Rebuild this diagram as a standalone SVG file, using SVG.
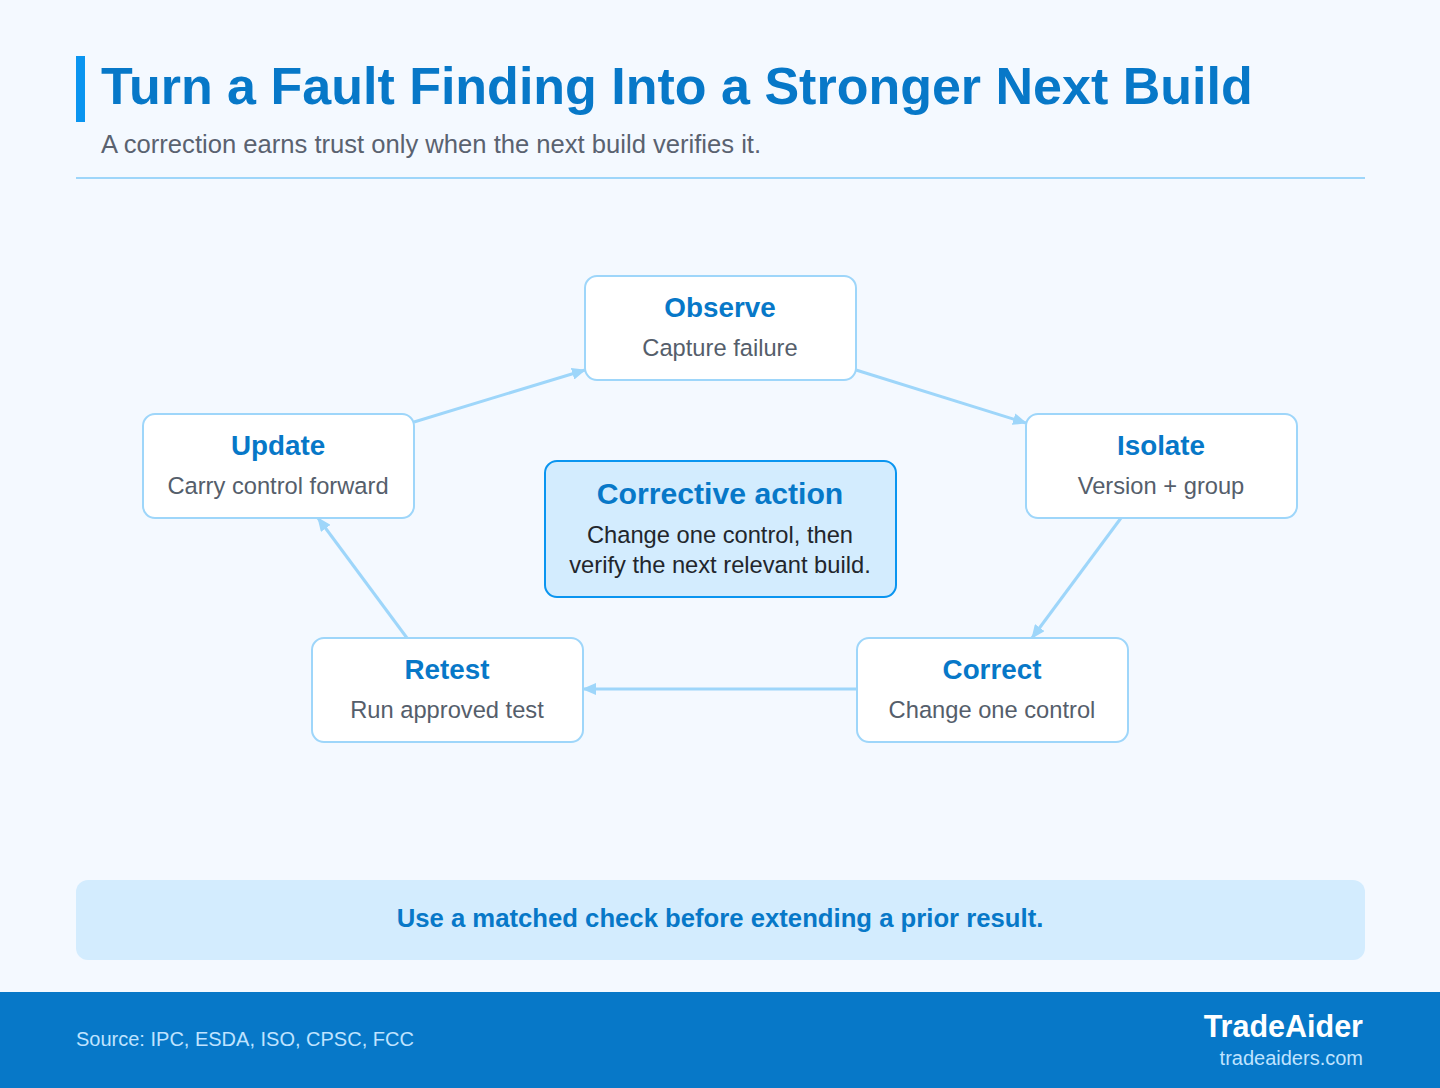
<svg xmlns="http://www.w3.org/2000/svg" width="1440" height="1088" viewBox="0 0 1440 1088">
<defs>
<style>
.bg{fill:#F4F9FF}
.node rect{fill:#FFFFFF;stroke:#9ED6FA;stroke-width:2}
.nt{font-family:"Liberation Sans",Arial,sans-serif;font-weight:bold;font-size:27.8px;fill:#0778C8;text-anchor:middle}
.ns{font-family:"Liberation Sans",Arial,sans-serif;font-size:23.7px;fill:#555E6B;text-anchor:middle}
.conn{stroke:#9ED6FA;stroke-width:3;fill:none;marker-end:url(#ah)}
</style>
<marker id="ah" markerUnits="userSpaceOnUse" markerWidth="14" markerHeight="12" refX="13" refY="6" orient="auto">
<path d="M0,0 L14,6 L0,12 Z" fill="#9ED6FA"/>
</marker>
</defs>
<rect class="bg" x="0" y="0" width="1440" height="1088"/>
<g id="header">
<rect x="76" y="56" width="9" height="66" fill="#0A95F0"/>
<text x="101" y="104" font-family="Liberation Sans,Arial,sans-serif" font-weight="bold" font-size="52" fill="#0778C8">Turn a Fault Finding Into a Stronger Next Build</text>
<text x="101" y="153" font-family="Liberation Sans,Arial,sans-serif" font-size="25.6" fill="#5A6270">A correction earns trust only when the next build verifies it.</text>
<line x1="76" y1="178" x2="1365" y2="178" stroke="#9ED6FA" stroke-width="2"/>
</g>
<g id="connectors">
<line class="conn" x1="414" y1="422" x2="585" y2="370"/>
<line class="conn" x1="856" y1="370" x2="1026" y2="423"/>
<line class="conn" x1="1121" y1="518" x2="1032" y2="638"/>
<line class="conn" x1="857" y1="689" x2="583" y2="689"/>
<line class="conn" x1="407" y1="638" x2="318" y2="518"/>
</g>
<g id="observe" class="node">
<rect x="585" y="276" width="271" height="104" rx="12"/>
<text class="nt" x="720" y="317">Observe</text>
<text class="ns" x="720" y="356">Capture failure</text>
</g>
<g id="isolate" class="node">
<rect x="1026" y="414" width="271" height="104" rx="12"/>
<text class="nt" x="1161" y="455">Isolate</text>
<text class="ns" x="1161" y="494">Version + group</text>
</g>
<g id="correct" class="node">
<rect x="857" y="638" width="271" height="104" rx="12"/>
<text class="nt" x="992" y="679">Correct</text>
<text class="ns" x="992" y="718">Change one control</text>
</g>
<g id="retest" class="node">
<rect x="312" y="638" width="271" height="104" rx="12"/>
<text class="nt" x="447" y="679">Retest</text>
<text class="ns" x="447" y="718">Run approved test</text>
</g>
<g id="update" class="node">
<rect x="143" y="414" width="271" height="104" rx="12"/>
<text class="nt" x="278" y="455">Update</text>
<text class="ns" x="278" y="494">Carry control forward</text>
</g>
<g id="center">
<rect x="545" y="461" width="351" height="136" rx="12" fill="#D3ECFE" stroke="#0A95F0" stroke-width="2"/>
<text x="720" y="504" font-family="Liberation Sans,Arial,sans-serif" font-weight="bold" font-size="30.2" fill="#0778C8" text-anchor="middle">Corrective action</text>
<text x="720" y="543" font-family="Liberation Sans,Arial,sans-serif" font-size="23.7" fill="#22262C" text-anchor="middle">Change one control, then</text>
<text x="720" y="573" font-family="Liberation Sans,Arial,sans-serif" font-size="23.7" fill="#22262C" text-anchor="middle">verify the next relevant build.</text>
</g>
<g id="banner">
<rect x="76" y="880" width="1289" height="80" rx="12" fill="#D3ECFE"/>
<text x="720" y="927" font-family="Liberation Sans,Arial,sans-serif" font-weight="bold" font-size="25.7" fill="#0778C8" text-anchor="middle">Use a matched check before extending a prior result.</text>
</g>
<g id="footer">
<rect x="0" y="992" width="1440" height="96" fill="#0778C8"/>
<text x="76" y="1046" font-family="Liberation Sans,Arial,sans-serif" font-size="20" fill="#BFE3FF">Source: IPC, ESDA, ISO, CPSC, FCC</text>
<text x="1363" y="1037" font-family="Liberation Sans,Arial,sans-serif" font-weight="bold" font-size="30.5" fill="#FFFFFF" text-anchor="end">TradeAider</text>
<text x="1363" y="1065" font-family="Liberation Sans,Arial,sans-serif" font-size="20" fill="#BFE3FF" text-anchor="end">tradeaiders.com</text>
</g>
</svg>
